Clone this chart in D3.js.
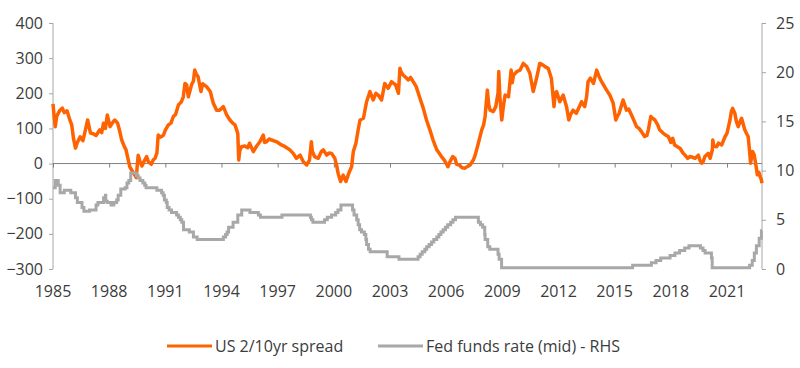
<!DOCTYPE html>
<html>
<head>
<meta charset="utf-8">
<script src="https://cdn.jsdelivr.net/npm/d3@7.9.0/dist/d3.min.js"></script>
<style>
  body { margin: 0; background: #fff; }
  svg { display: block; font-family: "Open Sans", sans-serif; }
  .tick text { fill: #3c3c3c; }
</style>
</head>
<body>
<svg id="chart" width="800" height="368"></svg>
<script>
// US 2/10yr spread (bp), [decimal year, value]
const spread = [
  [1985.0, 170], [1985.05, 140], [1985.12, 105], [1985.2, 135], [1985.35, 150], [1985.5, 158],
  [1985.6, 145], [1985.75, 150], [1985.9, 124], [1986.0, 110], [1986.1, 70], [1986.2, 44],
  [1986.3, 60], [1986.45, 76], [1986.6, 65], [1986.75, 100], [1986.85, 124], [1987.0, 87],
  [1987.15, 85], [1987.3, 80], [1987.5, 96], [1987.6, 88], [1987.7, 115], [1987.8, 100],
  [1987.9, 138], [1988.05, 105], [1988.2, 118], [1988.3, 124], [1988.45, 115], [1988.55, 95],
  [1988.67, 67], [1988.8, 50], [1988.9, 39], [1989.0, 15], [1989.1, -9], [1989.3, -27],
  [1989.45, -40], [1989.5, -5], [1989.55, 24], [1989.65, 5], [1989.75, -7], [1989.9, 10],
  [1990.0, 20], [1990.1, 5], [1990.25, -2], [1990.35, 10], [1990.45, 15], [1990.55, 30],
  [1990.62, 81], [1990.75, 75], [1990.9, 81], [1991.0, 95], [1991.16, 110], [1991.3, 115],
  [1991.43, 134], [1991.55, 140], [1991.7, 167], [1991.85, 175], [1991.96, 190], [1992.05, 228],
  [1992.14, 224], [1992.23, 190], [1992.4, 224], [1992.5, 235], [1992.57, 266], [1992.65, 255],
  [1992.75, 247], [1992.9, 205], [1993.0, 227], [1993.2, 219], [1993.4, 205], [1993.56, 172],
  [1993.74, 152], [1993.9, 152], [1994.1, 162], [1994.28, 138], [1994.45, 124], [1994.6, 115],
  [1994.72, 110], [1994.87, 86], [1994.92, 10], [1994.97, 35], [1995.07, 48], [1995.25, 50],
  [1995.4, 45], [1995.5, 58], [1995.7, 34], [1995.88, 50], [1996.05, 62], [1996.23, 81],
  [1996.3, 60], [1996.4, 62], [1996.55, 70], [1996.68, 67], [1996.95, 62], [1997.2, 53],
  [1997.4, 48], [1997.65, 39], [1997.83, 29], [1998.0, 15], [1998.2, 24], [1998.37, 5],
  [1998.55, -4], [1998.7, 10], [1998.8, 62], [1998.85, 35], [1998.97, 20], [1999.17, 15],
  [1999.33, 34], [1999.44, 39], [1999.62, 24], [1999.75, 30], [1999.88, 29], [2000.05, 15],
  [2000.15, -5], [2000.23, -28], [2000.36, -51], [2000.5, -33], [2000.65, -51], [2000.75, -35],
  [2000.83, -23], [2000.95, -9], [2001.04, 34], [2001.18, 58], [2001.3, 96], [2001.4, 124],
  [2001.58, 129], [2001.75, 176], [2001.93, 205], [2002.1, 181], [2002.25, 200], [2002.37, 195],
  [2002.55, 181], [2002.72, 228], [2002.9, 214], [2003.08, 233], [2003.3, 224], [2003.45, 200],
  [2003.53, 271], [2003.6, 260], [2003.7, 252], [2003.85, 245], [2003.97, 238], [2004.1, 245],
  [2004.24, 233], [2004.4, 219], [2004.6, 186], [2004.78, 157], [2004.95, 124], [2005.13, 96],
  [2005.3, 67], [2005.5, 39], [2005.75, 20], [2005.9, 10], [2006.1, -9], [2006.2, 5],
  [2006.35, 20], [2006.47, 15], [2006.56, -2], [2006.7, -4], [2006.85, -12], [2007.0, -13],
  [2007.15, -8], [2007.28, -4], [2007.45, 10], [2007.55, 24], [2007.72, 58], [2007.9, 96],
  [2008.0, 110], [2008.08, 134], [2008.2, 209], [2008.28, 165], [2008.35, 152], [2008.52, 148],
  [2008.65, 162], [2008.72, 185], [2008.77, 200], [2008.81, 262], [2008.87, 190], [2008.97, 124],
  [2009.05, 160], [2009.15, 195], [2009.33, 190], [2009.47, 266], [2009.53, 230], [2009.6, 252],
  [2009.78, 262], [2009.95, 266], [2010.12, 285], [2010.3, 276], [2010.47, 257], [2010.65, 205],
  [2010.83, 243], [2011.0, 285], [2011.18, 280], [2011.3, 275], [2011.45, 271], [2011.62, 243],
  [2011.76, 162], [2011.83, 200], [2011.9, 205], [2012.07, 176], [2012.25, 195], [2012.43, 162],
  [2012.55, 124], [2012.65, 140], [2012.78, 152], [2012.95, 143], [2013.1, 160], [2013.23, 176],
  [2013.4, 162], [2013.5, 190], [2013.58, 233], [2013.7, 243], [2013.87, 228], [2014.04, 266],
  [2014.15, 250], [2014.3, 233], [2014.45, 220], [2014.57, 209], [2014.74, 195], [2014.92, 172],
  [2015.06, 124], [2015.15, 135], [2015.24, 143], [2015.45, 181], [2015.55, 165], [2015.63, 152],
  [2015.75, 155], [2015.9, 138], [2016.05, 120], [2016.17, 105], [2016.3, 100], [2016.43, 91],
  [2016.6, 77], [2016.72, 80], [2016.8, 96], [2016.93, 134], [2017.0, 130], [2017.15, 124],
  [2017.3, 110], [2017.4, 96], [2017.6, 86], [2017.75, 80], [2017.87, 77], [2018.0, 60],
  [2018.1, 72], [2018.2, 53], [2018.35, 48], [2018.5, 43], [2018.65, 30], [2018.76, 24],
  [2018.9, 15], [2019.03, 20], [2019.15, 18], [2019.3, 15], [2019.47, 24], [2019.55, 10],
  [2019.65, 1], [2019.72, 5], [2019.82, 20], [2020.0, 29], [2020.1, 15], [2020.22, 40],
  [2020.24, 67], [2020.3, 50], [2020.45, 48], [2020.54, 58], [2020.72, 53], [2020.9, 77],
  [2021.0, 86], [2021.16, 124], [2021.24, 150], [2021.3, 157], [2021.42, 143], [2021.5, 120],
  [2021.6, 105], [2021.7, 120], [2021.78, 129], [2021.95, 96], [2022.05, 85], [2022.13, 77],
  [2022.2, 40], [2022.26, 1], [2022.32, 20], [2022.37, 34], [2022.45, 25], [2022.5, 10],
  [2022.56, -10], [2022.62, -32], [2022.7, -25], [2022.77, -37], [2022.83, -45], [2022.87, -56]
];

// Fed funds target, mid (%), step changes [decimal year, value]
const fedFunds = [
  [1985.0, 8.25], [1985.12, 9.0], [1985.28, 8.5], [1985.38, 7.75], [1985.6, 8.0], [1985.95, 7.75],
  [1986.2, 7.25], [1986.3, 6.75], [1986.55, 6.25], [1986.65, 5.875], [1986.95, 6.0], [1987.3, 6.5],
  [1987.4, 6.75], [1987.7, 7.25], [1987.8, 7.5], [1987.82, 6.875], [1987.9, 6.75], [1988.1, 6.5],
  [1988.25, 6.75], [1988.4, 7.0], [1988.48, 7.5], [1988.62, 8.125], [1988.85, 8.25], [1988.95, 8.75],
  [1989.05, 9.0], [1989.15, 9.75], [1989.45, 9.5], [1989.55, 9.25], [1989.65, 9.0], [1989.8, 8.75],
  [1989.9, 8.5], [1989.97, 8.25], [1990.55, 8.0], [1990.8, 7.75], [1990.88, 7.5], [1990.95, 7.0],
  [1991.05, 6.75], [1991.1, 6.25], [1991.2, 6.0], [1991.33, 5.75], [1991.6, 5.5], [1991.7, 5.25],
  [1991.8, 5.0], [1991.88, 4.75], [1991.97, 4.0], [1992.28, 3.75], [1992.5, 3.25], [1992.7, 3.0],
  [1994.1, 3.25], [1994.22, 3.5], [1994.3, 3.75], [1994.38, 4.25], [1994.62, 4.75], [1994.87, 5.5],
  [1995.08, 6.0], [1995.52, 5.75], [1995.97, 5.5], [1996.08, 5.25], [1997.23, 5.5], [1998.75, 5.25],
  [1998.8, 5.0], [1998.88, 4.75], [1999.5, 5.0], [1999.65, 5.25], [1999.88, 5.5], [2000.1, 5.75],
  [2000.22, 6.0], [2000.38, 6.5], [2001.0, 6.0], [2001.08, 5.5], [2001.22, 5.0], [2001.3, 4.5],
  [2001.38, 4.0], [2001.48, 3.75], [2001.63, 3.5], [2001.71, 3.0], [2001.75, 2.5], [2001.85, 2.0],
  [2001.94, 1.75], [2002.85, 1.25], [2003.48, 1.0], [2004.5, 1.25], [2004.61, 1.5], [2004.72, 1.75],
  [2004.86, 2.0], [2004.96, 2.25], [2005.09, 2.5], [2005.22, 2.75], [2005.34, 3.0], [2005.5, 3.25],
  [2005.61, 3.5], [2005.72, 3.75], [2005.84, 4.0], [2005.96, 4.25], [2006.08, 4.5], [2006.24, 4.75],
  [2006.36, 5.0], [2006.5, 5.25], [2007.72, 4.75], [2007.83, 4.5], [2007.95, 4.25], [2008.06, 3.5],
  [2008.08, 3.0], [2008.22, 2.25], [2008.33, 2.0], [2008.77, 1.5], [2008.83, 1.0], [2008.96, 0.125],
  [2015.96, 0.375], [2016.96, 0.625], [2017.21, 0.875], [2017.46, 1.125], [2017.96, 1.375],
  [2018.22, 1.625], [2018.47, 1.875], [2018.74, 2.125], [2018.97, 2.375], [2019.58, 2.125],
  [2019.72, 1.875], [2019.83, 1.625], [2020.17, 1.125], [2020.21, 0.125], [2022.21, 0.375],
  [2022.35, 0.875], [2022.46, 1.625], [2022.57, 2.375], [2022.72, 3.125], [2022.84, 3.875],
  [2022.87, 3.875]
];

const yearTicks = d3.range(1985, 2022, 3);
const leftTicks = [-300, -200, -100, 0, 100, 200, 300, 400];
const rightTicks = [0, 5, 10, 15, 20, 25];

const orange = "#ff6200";
const grey = "#a8a8a8";

const svg = d3.select("#chart");
const plotLeft = 53, plotRight = 762, plotTop = 23, plotBottom = 269;

const x = d3.scaleLinear().domain([1985, 2022.87]).range([plotLeft, plotRight]);
const yL = d3.scaleLinear().domain([-300, 400]).range([plotBottom, plotTop]);
const yR = d3.scaleLinear().domain([0, 25]).range([plotBottom, plotTop]);

// left and right axes
const gL = svg.append("g")
  .attr("transform", `translate(${plotLeft},0)`)
  .call(d3.axisLeft(yL).tickValues(leftTicks).tickSize(4).tickPadding(6));
const gR = svg.append("g")
  .attr("transform", `translate(${plotRight},0)`)
  .call(d3.axisRight(yR).tickValues(rightTicks).tickSize(4).tickPadding(10));
[gL, gR].forEach(g => {
  g.select(".domain").attr("stroke", "#a6a6a6").attr("d", `M0,${plotTop}V${plotBottom}`);
  g.selectAll(".tick line").attr("stroke", "#a6a6a6");
  g.selectAll(".tick text").attr("font-size", 16);
  g.attr("font-family", null).attr("font-size", null);
});

// zero line with year ticks
const gX = svg.append("g")
  .attr("transform", `translate(0,${yL(0)})`)
  .call(d3.axisBottom(x).tickValues(yearTicks).tickSize(4).tickFormat(""));
gX.select(".domain").attr("stroke", "#7f7f7f").attr("d", `M${plotLeft},0H${plotRight}`);
gX.selectAll(".tick line").attr("stroke", "#7f7f7f");

// year labels along the bottom
svg.append("g")
  .selectAll("text")
  .data(yearTicks)
  .join("text")
  .attr("x", d => x(d))
  .attr("y", 297)
  .attr("text-anchor", "middle")
  .attr("font-size", 16)
  .attr("fill", "#3c3c3c")
  .text(d => d);

const spreadLine = d3.line()
  .x(d => x(d[0]))
  .y(d => yL(d[1]));
const fedLine = d3.line()
  .x(d => x(d[0]))
  .y(d => yR(d[1]))
  .curve(d3.curveStepAfter);

svg.append("path")
  .datum(spread)
  .attr("fill", "none")
  .attr("stroke", orange)
  .attr("stroke-width", 3.5)
  .attr("stroke-linejoin", "round")
  .attr("d", spreadLine);

svg.append("path")
  .datum(fedFunds)
  .attr("fill", "none")
  .attr("stroke", grey)
  .attr("stroke-width", 3)
  .attr("d", fedLine);

// legend
const legend = [
  { label: "US 2/10yr spread", color: orange, x: 167, w: 45 },
  { label: "Fed funds rate (mid) - RHS", color: grey, x: 378, w: 45 }
];
const lg = svg.append("g");
legend.forEach(d => {
  lg.append("line")
    .attr("x1", d.x).attr("x2", d.x + d.w)
    .attr("y1", 346).attr("y2", 346)
    .attr("stroke", d.color).attr("stroke-width", 3);
  lg.append("text")
    .attr("x", d.x + d.w + 3)
    .attr("y", 346)
    .attr("dy", "0.35em")
    .attr("font-size", 16)
    .attr("fill", "#3c3c3c")
    .text(d.label);
});
</script>
</body>
</html>
